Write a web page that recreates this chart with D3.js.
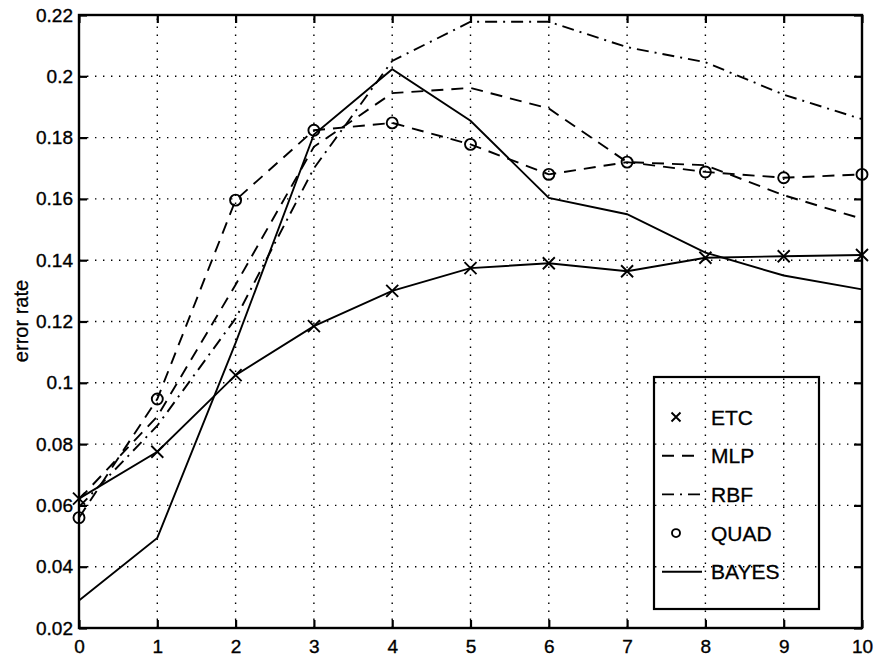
<!DOCTYPE html>
<html>
<head>
<meta charset="utf-8">
<script src="https://cdn.jsdelivr.net/npm/d3@7"></script>
<style>
  html, body { margin: 0; padding: 0; background: #fff; }
  svg { display: block; }
  text { font-family: "Liberation Sans", Arial, sans-serif; fill: #000; }
</style>
</head>
<body>
<svg id="chart" width="877" height="656"></svg>
<script>
// Error rate per step for each classifier
const steps = [0, 1, 2, 3, 4, 5, 6, 7, 8, 9, 10];
const etc   = [0.0622, 0.0775, 0.1025, 0.1185, 0.1300, 0.1374, 0.1390, 0.1364, 0.1408, 0.1413, 0.1417];
const mlp   = [0.0620, 0.0890, 0.1320, 0.1770, 0.1945, 0.1962, 0.1895, 0.1720, 0.1710, 0.1612, 0.1535];
const rbf   = [0.0595, 0.0860, 0.1210, 0.1700, 0.2050, 0.2178, 0.2178, 0.2095, 0.2046, 0.1940, 0.1860];
const quad  = [0.0560, 0.0947, 0.1596, 0.1824, 0.1848, 0.1778, 0.1680, 0.1720, 0.1688, 0.1669, 0.1680];
const bayes = [0.0290, 0.0494, 0.1130, 0.1810, 0.2023, 0.1855, 0.1603, 0.1550, 0.1425, 0.1350, 0.1305];

const xTicks = [0, 1, 2, 3, 4, 5, 6, 7, 8, 9, 10];
const yTicks = [0.02, 0.04, 0.06, 0.08, 0.1, 0.12, 0.14, 0.16, 0.18, 0.2, 0.22];
const yLabel = "error rate";

const legendItems = [
  { name: "ETC",   marker: "x" },
  { name: "MLP",   dash: "12,8" },
  { name: "RBF",   dash: "12,6,2,6" },
  { name: "QUAD",  marker: "o" },
  { name: "BAYES", dash: null }
];

const svg = d3.select("#chart");
const L = 79, R = 862, T = 15, B = 628;
const FONT = "Liberation Sans, Arial, sans-serif";

const x = d3.scaleLinear().domain([0, 10]).range([L, R]);
const y = d3.scaleLinear().domain([0.02, 0.22]).range([B, T]);

// dotted grid
const grid = svg.append("g").attr("stroke", "#000").attr("stroke-width", 1.4)
  .attr("stroke-dasharray", "1.4,6.6").attr("fill", "none");
grid.selectAll("line.gx").data(xTicks.slice(1, -1)).join("line")
  .attr("x1", d => x(d)).attr("x2", d => x(d)).attr("y1", B).attr("y2", T);
grid.selectAll("line.gy").data(yTicks.slice(1, -1)).join("line")
  .attr("x1", L).attr("x2", R).attr("y1", d => y(d)).attr("y2", d => y(d));

// axes on all four sides with inward ticks
const tk = 8;
const axB = svg.append("g").attr("transform", `translate(0,${B})`)
  .call(d3.axisBottom(x).tickValues(xTicks).tickSize(-tk).tickPadding(11).tickFormat(d3.format("d")));
const axT = svg.append("g").attr("transform", `translate(0,${T})`)
  .call(d3.axisTop(x).tickValues(xTicks).tickSize(-tk).tickFormat(""));
const axL = svg.append("g").attr("transform", `translate(${L},0)`)
  .call(d3.axisLeft(y).tickValues(yTicks).tickSize(-tk).tickPadding(6).tickFormat(d => d3.format("")(+d.toFixed(2))));
const axR = svg.append("g").attr("transform", `translate(${R},0)`)
  .call(d3.axisRight(y).tickValues(yTicks).tickSize(-tk).tickFormat(""));
[axB, axT, axL, axR].forEach(a => {
  a.select(".domain").remove();
  a.selectAll(".tick line").attr("stroke", "#000").attr("stroke-width", 2.2);
  a.selectAll("text").attr("font-size", 19).attr("font-family", FONT)
    .attr("fill", "#000").attr("stroke", "#000").attr("stroke-width", 0.35);
});
axB.selectAll("text").attr("dy", "0.72em");

svg.append("rect").attr("x", L).attr("y", T).attr("width", R - L).attr("height", B - T)
  .attr("fill", "none").attr("stroke", "#000").attr("stroke-width", 2.4);

svg.append("text").attr("transform", `translate(28,321) rotate(-90)`)
  .attr("text-anchor", "middle").attr("font-size", 20).attr("stroke", "#000").attr("stroke-width", 0.3)
  .text(yLabel);

// series lines
const line = vals => d3.line().x((d, i) => x(steps[i])).y(d => y(d))(vals);
const plot = svg.append("g").attr("fill", "none").attr("stroke", "#000").attr("stroke-width", 1.9);
plot.append("path").attr("d", line(bayes));
plot.append("path").attr("d", line(etc));
plot.append("path").attr("d", line(mlp)).attr("stroke-dasharray", "12,8");
plot.append("path").attr("d", line(rbf)).attr("stroke-dasharray", "12,6,2,6");
plot.append("path").attr("d", line(quad)).attr("stroke-dasharray", "12,8");

// markers
const xMark = (g, cx, cy, s) => g.append("path")
  .attr("d", `M${cx - s},${cy - s}L${cx + s},${cy + s}M${cx - s},${cy + s}L${cx + s},${cy - s}`);
const mk = svg.append("g").attr("fill", "none").attr("stroke", "#000").attr("stroke-width", 1.9);
etc.forEach((v, i) => xMark(mk, x(steps[i]), y(v), 6));
mk.selectAll("circle").data(quad).join("circle")
  .attr("cx", (d, i) => x(steps[i])).attr("cy", d => y(d)).attr("r", 5.5);

// legend
const lg = svg.append("g");
lg.append("rect").attr("x", 654).attr("y", 377).attr("width", 165).attr("height", 232)
  .attr("fill", "none").attr("stroke", "#000").attr("stroke-width", 2.2);
legendItems.forEach((it, i) => {
  const cy = 417 + i * 38.7;
  const g = lg.append("g").attr("fill", "none").attr("stroke", "#000").attr("stroke-width", 1.9);
  if (it.marker === "x") xMark(g, 676, cy, 4.5);
  else if (it.marker === "o") g.append("circle").attr("cx", 676).attr("cy", cy).attr("r", 4);
  else g.append("line").attr("x1", 662).attr("x2", 702).attr("y1", cy).attr("y2", cy)
    .attr("stroke-dasharray", it.dash);
  lg.append("text").attr("x", 711).attr("y", cy + 7.5).attr("font-size", 21)
    .attr("stroke", "#000").attr("stroke-width", 0.3).text(it.name);
});
</script>
</body>
</html>
